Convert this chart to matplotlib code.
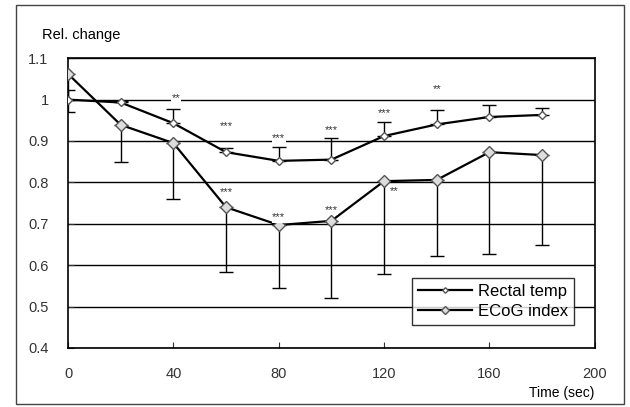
import numpy as np
import matplotlib.pyplot as plt
from matplotlib.patches import Rectangle

plt.rcParams['font.family'] = ['Liberation Sans', 'DejaVu Sans']

time = [0, 20, 40, 60, 80, 100, 120, 140, 160, 180]
rectal = [1.0, 0.993, 0.943, 0.873, 0.852, 0.855, 0.912, 0.94, 0.958, 0.963]
rectal_hi = [1.023, 0.997, 0.977, 0.883, 0.885, 0.907, 0.946, 0.975, 0.987, 0.98]
ecog = [1.062, 0.939, 0.895, 0.74, 0.697, 0.707, 0.803, 0.806, 0.873, 0.866]
ecog_lo = [0.97, 0.849, 0.76, 0.584, 0.545, 0.52, 0.579, 0.622, 0.627, 0.649]

# significance marks: (x, y, text)
stars = [(41, 1.003, "**"), (60, 0.936, "***"), (80, 0.907, "***"),
         (100, 0.926, "***"), (120, 0.968, "***"), (140, 1.025, "**"),
         (60, 0.777, "***"), (80, 0.716, "***"), (100, 0.733, "***"),
         (124, 0.78, "**")]

yticks = [0.4, 0.5, 0.6, 0.7, 0.8, 0.9, 1.0, 1.1]
ytick_labels = ["0.4", "0.5", "0.6", "0.7", "0.8", "0.9", "1", "1.1"]
xticks = [0, 40, 80, 120, 160, 200]

fig = plt.figure(figsize=(6.3, 4.07), dpi=100)
ax = fig.add_axes([0.108, 0.145, 0.836, 0.712])

r = np.array(rectal)
e = np.array(ecog)
ax.errorbar(time, rectal, yerr=[np.zeros_like(r), np.array(rectal_hi) - r],
            fmt='none', ecolor='black', elinewidth=1, capsize=5, zorder=3)
ax.errorbar(time, ecog, yerr=[e - np.array(ecog_lo), np.zeros_like(e)],
            fmt='none', ecolor='black', elinewidth=1, capsize=5, zorder=3)
ax.plot(time, rectal, color='black', lw=1.6, marker='D', ms=4,
        mfc='white', mec='#555555', label='Rectal temp', zorder=4)
ax.plot(time, ecog, color='black', lw=1.6, marker='D', ms=6,
        mfc='#dddddd', mec='#555555', label='ECoG index', zorder=4)

for x, y, s in stars:
    ax.text(x, y, s, fontsize=8, ha='center', va='center', color='#333333', zorder=5,
            bbox=dict(facecolor='white', edgecolor='none', pad=0.2))

ax.set_xlim(0, 200)
ax.set_ylim(0.4, 1.1)
ax.set_yticks(yticks)
ax.set_yticklabels(ytick_labels)
ax.set_xticks(xticks)
ax.yaxis.grid(True, color='black', lw=1)
ax.set_axisbelow(True)
ax.tick_params(labelsize=10.5, length=4, direction='in', colors='#333333')
ax.tick_params(axis='x', pad=14)
ax.tick_params(axis='y', pad=14)
for sp in ax.spines.values():
    sp.set_linewidth(1.2)

fig.text(0.067, 0.915, "Rel. change", fontsize=10.5, ha='left', va='center')
ax.text(1.0, -0.155, "Time (sec)", transform=ax.transAxes, fontsize=10,
        ha='right', va='center')

leg = ax.legend(loc='lower right', bbox_to_anchor=(0.977, 0.05), frameon=True,
                fancybox=False, edgecolor='black', fontsize=12,
                handlelength=3.2, borderpad=0.35, labelspacing=0.3,
                handletextpad=0.4, markerscale=0.7)
leg.get_frame().set_linewidth(1)

fig.patches.append(Rectangle((0.025, 0.008), 0.965, 0.98, transform=fig.transFigure,
                             fill=False, edgecolor='#444444', lw=1))

fig.savefig("out.png", dpi=100)
